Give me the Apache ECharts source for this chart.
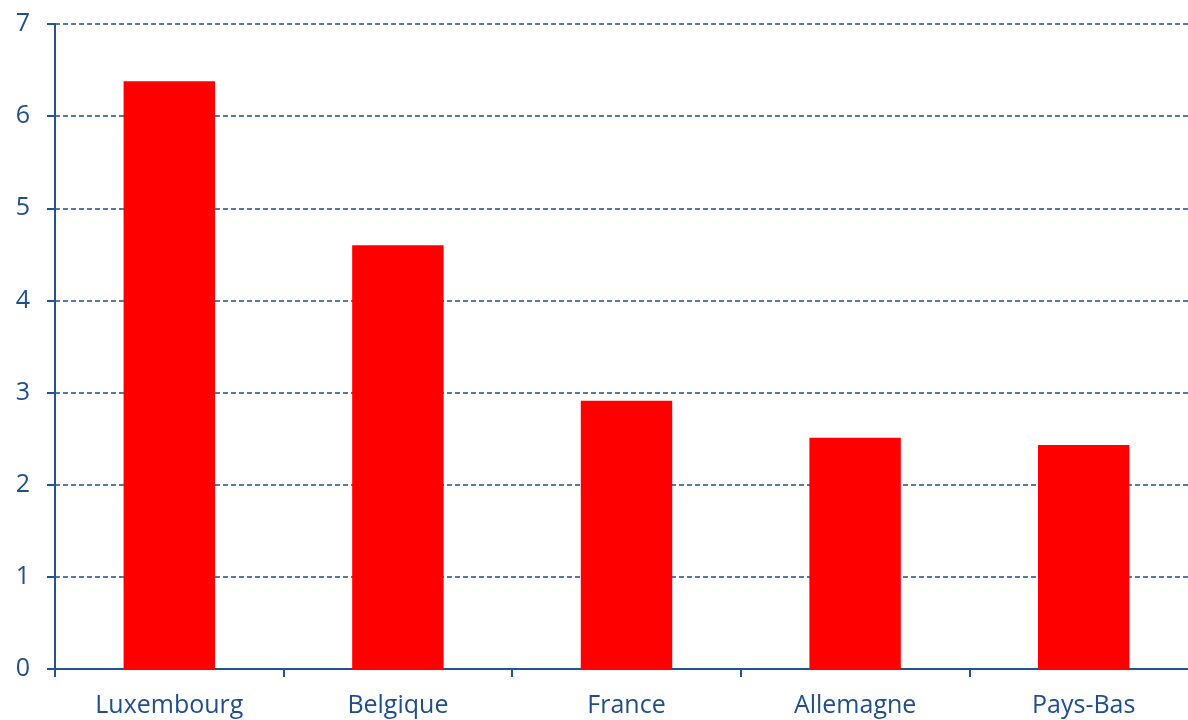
<!DOCTYPE html>
<html>
<head>
<meta charset="utf-8">
<script src="https://cdn.jsdelivr.net/npm/echarts@6/dist/echarts.min.js"></script>
<style>
  html, body { margin: 0; padding: 0; background: #fff; overflow: hidden; }
  #chart { width: 1200px; height: 720px; }
</style>
</head>
<body>
<div id="chart"></div>
<script>
// pays et valeurs
var categories = ['Luxembourg', 'Belgique', 'France', 'Allemagne', 'Pays-Bas'];
var values = [6.38, 4.60, 2.91, 2.51, 2.43];
var yTicks = [0, 1, 2, 3, 4, 5, 6, 7];

var axisColor = '#1f5596';

var chart = echarts.init(document.getElementById('chart'));
chart.setOption({
    animation: false,
    grid: { left: 55, right: 2, top: 24, bottom: 51, containLabel: false },
    xAxis: {
        type: 'category',
        data: categories,
        axisLine: { lineStyle: { color: axisColor, width: 2 } },
        axisTick: { show: true, length: 8, lineStyle: { color: axisColor, width: 2 } },
        axisLabel: {
            color: '#1f4e8c', fontSize: 25, fontFamily: 'Open Sans, sans-serif',
            margin: 24
        }
    },
    yAxis: {
        type: 'value',
        min: yTicks[0],
        max: yTicks[yTicks.length - 1],
        interval: 1,
        axisLine: { show: true, lineStyle: { color: axisColor, width: 2 } },
        axisTick: { show: true, length: 8, lineStyle: { color: axisColor, width: 2 } },
        axisLabel: {
            color: '#1f4e8c', fontSize: 25, fontFamily: 'Open Sans, sans-serif',
            margin: 25
        },
        splitLine: { lineStyle: { color: '#1f4e8c', width: 1.5, type: [5, 3] } }
    },
    series: [{
        type: 'bar',
        data: values,
        barWidth: '40%',
        itemStyle: { color: '#ff0000' }
    }]
});
</script>
</body>
</html>
